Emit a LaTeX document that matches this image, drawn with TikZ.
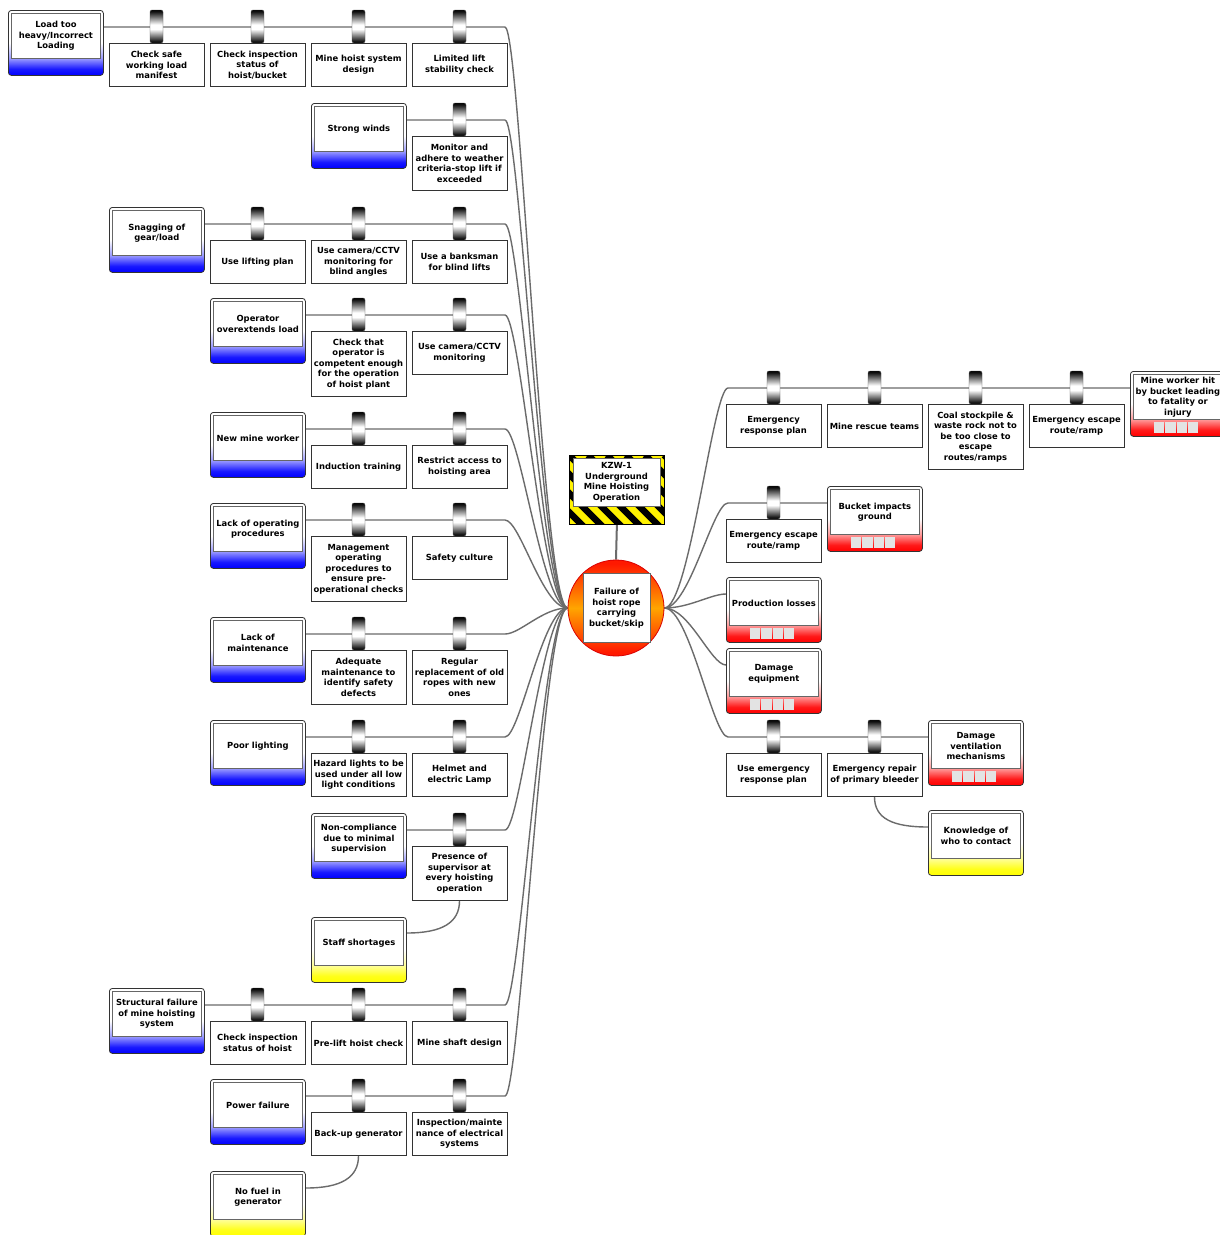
\documentclass[tikz,border=0pt]{standalone}
\usepackage{fontspec}
\setmainfont{DejaVu Sans}
\usetikzlibrary{calc}
\definecolor{linegray}{gray}{0.42}
\definecolor{torange}{RGB}{255,165,0}
\definecolor{tred}{RGB}{255,25,0}
\pgfdeclareverticalshading{thsh}{100bp}{color(0bp)=(blue); color(25bp)=(blue); color(30bp)=(blue!90!white); color(38bp)=(blue!40!white); color(50bp)=(white); color(100bp)=(white)}
\pgfdeclareverticalshading{cqsh}{100bp}{color(0bp)=(red); color(25bp)=(red); color(30bp)=(red!90!white); color(38bp)=(red!40!white); color(50bp)=(white); color(100bp)=(white)}
\pgfdeclareverticalshading{essh}{100bp}{color(0bp)=(yellow); color(25bp)=(yellow); color(30bp)=(yellow!90!white); color(38bp)=(yellow!40!white); color(50bp)=(white); color(100bp)=(white)}
\pgfdeclareverticalshading{cylsh}{100bp}{color(0bp)=(black); color(25bp)=(black); color(28bp)=(black!90); color(46bp)=(white); color(53bp)=(white); color(72bp)=(black!90); color(75bp)=(black); color(100bp)=(black)}
\pgfdeclareverticalshading{topsh}{100bp}{color(0bp)=(tred); color(27bp)=(tred); color(50bp)=(torange); color(73bp)=(tred); color(100bp)=(tred)}
\pgfdeclarelayer{bg}
\pgfsetlayers{bg,main}
\newcommand\RBox[5]{%
  \node[riskbox, shading=#4] (#1) at (#2,#3) {};
  \draw[inbox] ($(#1.north west)+(3,3)$) rectangle ($(#1.north east)+(-3,48)$);
  \node[txt] (#1t) at ($(#1.north)+(0,26)$) {#5};
}
\newcommand\BarB[5]{%
  \node[cyl] (#1c) at (#2,#3-0.5) {};
  \node[barrier,#4] (#1) at (#2,#3+16) {#5};
}
\newcommand\Squares[1]{%
  \foreach \i in {0,...,3} \fill[gray!22] ($(#1.north west)+(24+\i*11.25,51)$) rectangle ++(10.25,11);
}
\begin{document}
\begin{tikzpicture}[x=1pt,y=-1pt,
  txt/.style={font=\fontsize{8.4}{10.5}\selectfont\bfseries, align=center, inner sep=0pt},
  barrier/.style={txt, draw=black!80, fill=white, line width=0.8pt, minimum width=95pt, minimum height=43pt, inner ysep=2pt, anchor=north},
  h4/.style={minimum height=54pt},
  h5/.style={minimum height=65pt},
  cyl/.style={rounded corners=2pt, shading=cylsh, draw=black!70, line width=0.4pt, minimum width=13pt, minimum height=33pt, inner sep=0pt},
  conn/.style={draw=linegray, line width=1.4pt},
  riskbox/.style={draw=black!80, rounded corners=3pt, line width=0.8pt, minimum width=95pt, minimum height=65pt, inner sep=0pt, anchor=north west},
  inbox/.style={draw=black!60, fill=white, line width=0.8pt}]
\useasboundingbox (0,0) rectangle (1220,1235);
\begin{pgfonlayer}{bg}
\fill[white] (0,0) rectangle (1220,1235);
\end{pgfonlayer}

% ---------- hazard and top event ----------
\fill[yellow] (569,455) rectangle (664,524);
\begin{scope}
\clip (569,455) rectangle (664,524);
\foreach \k in {-76,-57,...,100} \draw[black, line width=6.7pt] (569+\k,455) -- ++(75,75);
\end{scope}
\node[draw=black, line width=0.8pt, minimum width=95pt, minimum height=69pt, anchor=north west, inner sep=0pt] (hz) at (569,455) {};
\draw[inbox] (573,458) rectangle (660,506);
\node[txt] (hzt) at (616.5,482.5) {KZW-1\\Underground\\Mine Hoisting\\Operation};

\node[circle, shading=topsh, draw=red!85!black, line width=0.8pt, minimum size=96pt, inner sep=0pt] (te) at (616,608) {};
\draw[inbox] (583,573) rectangle (650,642);
\node[txt] (tet) at (616.5,608) {Failure of\\hoist rope\\carrying\\bucket/skip};

% ---------- threats (left) ----------
\RBox{t1}{8}{10}{thsh}{Load too\\heavy/Incorrect\\Loading}
\BarB{b11}{156.5}{27}{}{Check safe\\working load\\manifest}
\BarB{b12}{257.5}{27}{}{Check inspection\\status of\\hoist/bucket}
\BarB{b13}{358.5}{27}{}{Mine hoist system\\design}
\BarB{b14}{459.5}{27}{}{Limited lift\\stability check}

\RBox{t2}{311}{103}{thsh}{Strong winds}
\BarB{b24}{459.5}{120}{h4}{Monitor and\\adhere to weather\\criteria-stop lift if\\exceeded}

\RBox{t3}{109}{207}{thsh}{Snagging of\\gear/load}
\BarB{b32}{257.5}{224}{}{Use lifting plan}
\BarB{b33}{358.5}{224}{}{Use camera/CCTV\\monitoring for\\blind angles}
\BarB{b34}{459.5}{224}{}{Use a banksman\\for blind lifts}

\RBox{t4}{210}{298}{thsh}{Operator\\overextends load}
\BarB{b43}{358.5}{315}{h5}{Check that\\operator is\\competent enough\\for the operation\\of hoist plant}
\BarB{b44}{459.5}{315}{}{Use camera/CCTV\\monitoring}

\RBox{t5}{210}{412}{thsh}{New mine worker}
\BarB{b53}{358.5}{429}{}{Induction training}
\BarB{b54}{459.5}{429}{}{Restrict access to\\hoisting area}

\RBox{t6}{210}{503}{thsh}{Lack of operating\\procedures}
\BarB{b63}{358.5}{520}{h5}{Management\\operating\\procedures to\\ensure pre-\\operational checks}
\BarB{b64}{459.5}{520}{}{Safety culture}

\RBox{t7}{210}{617}{thsh}{Lack of\\maintenance}
\BarB{b73}{358.5}{634}{h4}{Adequate\\maintenance to\\identify safety\\defects}
\BarB{b74}{459.5}{634}{h4}{Regular\\replacement of old\\ropes with new\\ones}

\RBox{t8}{210}{720}{thsh}{Poor lighting}
\BarB{b83}{358.5}{737}{}{Hazard lights to be\\used under all low\\light conditions}
\BarB{b84}{459.5}{737}{}{Helmet and\\electric Lamp}

\RBox{t9}{311}{813}{thsh}{Non-compliance\\due to minimal\\supervision}
\BarB{b94}{459.5}{830}{h4}{Presence of\\supervisor at\\every hoisting\\operation}
\RBox{s9}{311}{917}{essh}{Staff shortages}

\RBox{t10}{109}{988}{thsh}{Structural failure\\of mine hoisting\\system}
\BarB{b102}{257.5}{1005}{}{Check inspection\\status of hoist}
\BarB{b103}{358.5}{1005}{}{Pre-lift hoist check}
\BarB{b104}{459.5}{1005}{}{Mine shaft design}

\RBox{t11}{210}{1079}{thsh}{Power failure}
\BarB{b113}{358.5}{1096}{}{Back-up generator}
\BarB{b114}{459.5}{1096}{}{Inspection/mainte\\nance of electrical\\systems}
\RBox{s11}{210}{1171}{essh}{No fuel in\\generator}

% ---------- consequences (right) ----------
\BarB{a1}{773.5}{388}{}{Emergency\\response plan}
\BarB{a2}{874.5}{388}{}{Mine rescue teams}
\BarB{a3}{975.5}{388}{h5}{Coal stockpile \&\\waste rock not to\\be too close to\\escape\\routes/ramps}
\BarB{a4}{1076.5}{388}{}{Emergency escape\\route/ramp}
\RBox{cA}{1130}{371}{cqsh}{Mine worker hit\\by bucket leading\\to fatality or\\injury}
\Squares{cA}

\BarB{bb1}{773.5}{503}{}{Emergency escape\\route/ramp}
\RBox{cB}{827}{486}{cqsh}{Bucket impacts\\ground}
\Squares{cB}

\RBox{cC}{726}{577}{cqsh}{Production losses}
\Squares{cC}

\RBox{cD}{726}{648}{cqsh}{Damage\\equipment}
\Squares{cD}

\BarB{eb1}{773.5}{737}{}{Use emergency\\response plan}
\BarB{eb2}{874.5}{737}{}{Emergency repair\\of primary bleeder}
\RBox{cE}{928}{720}{cqsh}{Damage\\ventilation\\mechanisms}
\Squares{cE}
\RBox{kE}{928}{810}{essh}{Knowledge of\\who to contact}

% ---------- junction coordinates ----------
\coordinate (j1) at (505,27);
\coordinate (j2) at (505,120);
\coordinate (j3) at (505,224);
\coordinate (j4) at (505,315);
\coordinate (j5) at (505,429);
\coordinate (j6) at (505,520);
\coordinate (j7) at (505,634);
\coordinate (j8) at (505,737);
\coordinate (j9) at (505,830);
\coordinate (j10) at (505,1005);
\coordinate (j11) at (505,1096);
\coordinate (jA) at (728,388);
\coordinate (jB) at (728,503);
\coordinate (jE) at (728,737);

% ---------- connectors ----------
\begin{pgfonlayer}{bg}
\foreach \n in {1,...,11}
  \draw[conn] ($(t\n.north east)+(0,17)$) -- (j\n) .. controls +(15,0) and +(-25,0) .. (te.west);
\draw[conn] (te.east) .. controls +(25,0) and +(-15,0) .. (jA) -- ($(cA.north west)+(0,17)$);
\draw[conn] (te.east) .. controls +(25,0) and +(-15,0) .. (jB) -- ($(cB.north west)+(0,17)$);
\draw[conn] (te.east) .. controls +(25,0) and +(-15,0) .. ($(cC.north west)+(0,17)$);
\draw[conn] (te.east) .. controls +(25,0) and +(-15,0) .. ($(cD.north west)+(0,17)$);
\draw[conn] (te.east) .. controls +(25,0) and +(-15,0) .. (jE) -- ($(cE.north west)+(0,17)$);
\draw[conn] (b94.south) .. controls +(0,22) and +(35,0) .. ($(s9.north east)+(0,16)$);
\draw[conn] (b113.south) .. controls +(0,22) and +(35,0) .. ($(s11.north east)+(0,17)$);
\draw[conn] (eb2.south) .. controls +(0,22) and +(-35,0) .. ($(kE.north west)+(0,17)$);
\draw[conn, line width=2pt] (hz.south) -- (te.north);
\end{pgfonlayer}
\end{tikzpicture}
\end{document}
